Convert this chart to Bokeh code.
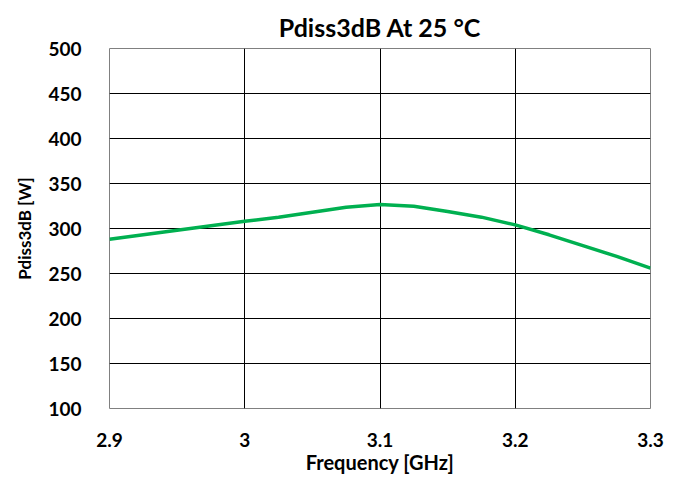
from bokeh.plotting import figure
from bokeh.models import FixedTicker, Range1d, Title
from bokeh.embed import file_html
from bokeh.resources import INLINE

freq = [2.9, 2.925, 2.95, 2.975, 3.0, 3.025, 3.05, 3.075, 3.1, 3.125, 3.15, 3.175, 3.2, 3.225, 3.25, 3.275, 3.3]
pdiss = [288, 293, 298, 303, 308, 312.5, 318, 323.5, 326.7, 324.7, 319, 312.6, 304, 293, 281, 269, 256]

x_ticks = [2.9, 3.0, 3.1, 3.2, 3.3]
x_labels = ["2.9", "3", "3.1", "3.2", "3.3"]
y_ticks = [100, 150, 200, 250, 300, 350, 400, 450, 500]

FONT = "Lato"

p = figure(width=683, height=477, output_backend="svg", toolbar_location=None,
           x_range=Range1d(2.9, 3.3), y_range=Range1d(100, 500),
           min_border_left=109, min_border_right=33, min_border_top=48, min_border_bottom=69,
           title="Pdiss3dB At 25 °C")

p.title.align = "center"
p.title.text_font = FONT
p.title.text_font_size = "25px"
p.title.text_font_style = "bold"
p.title.text_color = "#000000"
p.title.offset = 5
p.title.standoff = 4

spacer = Title(text=" ", text_font_size="3px", standoff=0)
p.add_layout(spacer, "above")

p.line(freq, pdiss, line_color="#00B050", line_width=3.5)

p.xaxis.ticker = FixedTicker(ticks=x_ticks)
p.xaxis.major_label_overrides = {t: l for t, l in zip(x_ticks, x_labels)}
p.yaxis.ticker = FixedTicker(ticks=y_ticks)

for ax in (p.xaxis[0], p.yaxis[0]):
    ax.axis_line_color = None
    ax.major_tick_line_color = None
    ax.minor_tick_line_color = None
    ax.major_label_text_font = FONT
    ax.major_label_text_font_size = "19px"
    ax.major_label_text_font_style = "bold"
    ax.major_label_text_color = "#000000"
    ax.axis_label_text_font = FONT
    ax.axis_label_text_font_style = "bold"
    ax.axis_label_text_color = "#000000"

p.xaxis.axis_label_text_font_size = "20px"
p.yaxis.axis_label_text_font_size = "17px"
p.xaxis.axis_label = "Frequency [GHz]"
p.yaxis.axis_label = "Pdiss3dB [W]"
p.xaxis.major_label_standoff = 18
p.yaxis.major_label_standoff = 22
p.xaxis.axis_label_standoff = 0
p.yaxis.axis_label_standoff = 10

p.xgrid.grid_line_color = "#000000"
p.ygrid.grid_line_color = "#000000"
p.xgrid.grid_line_width = 1
p.ygrid.grid_line_width = 1
p.outline_line_color = "#808080"
p.outline_line_width = 1

open("out.html", "w").write(file_html(p, INLINE))
